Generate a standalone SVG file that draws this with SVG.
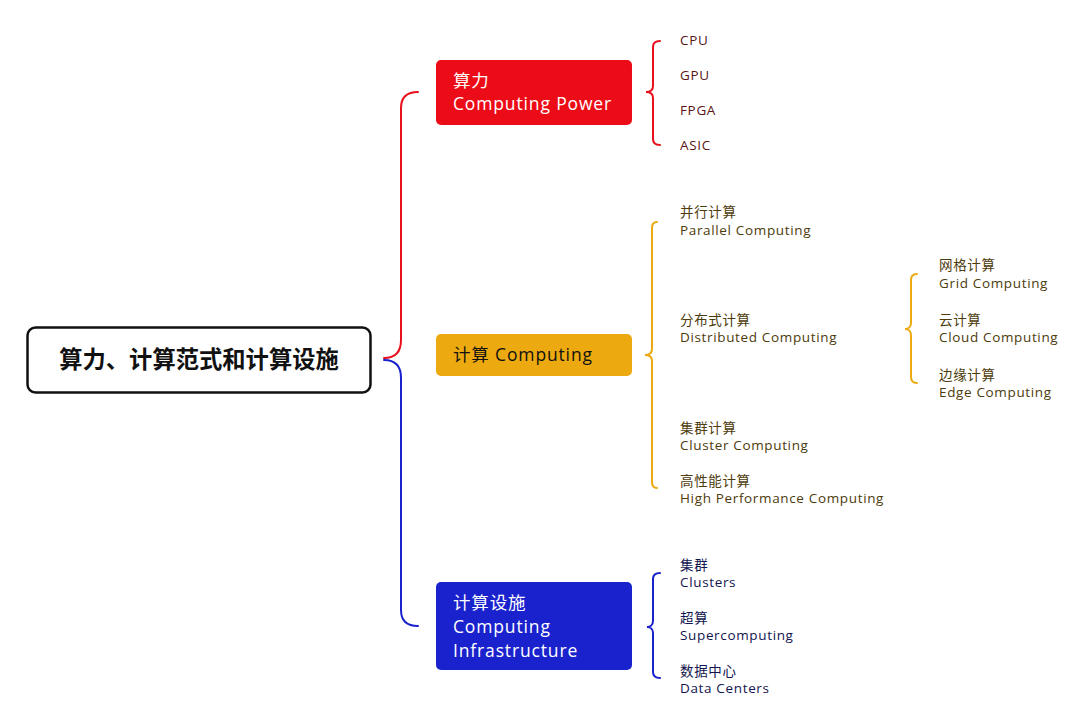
<svg xmlns="http://www.w3.org/2000/svg" width="1082" height="727" viewBox="0 0 1082 727">
<style>
text{font-family:"Open Sans","Noto Sans CJK SC",sans-serif;}
.lbl{font-size:13.5px;letter-spacing:0.65px;}
.r{fill:#5a1414;}
.y{fill:#4d3b0c;}
.b{fill:#12154f;}
.main{font-size:17.5px;letter-spacing:0.85px;}
.br{fill:none;stroke-width:2;stroke-linecap:round;}
</style>
<rect width="1082" height="727" fill="#ffffff"/>
<g id="connectors">
<path class="br" stroke="#e8101c" d="M384,358 C396,358 401,352 401,340 L401,108 C401,98 406,92 418,92"/>
<path class="br" stroke="#1a22cd" d="M384,360 C396,360 401,366 401,378 L401,610 C401,620 406,626 418,626"/>
<path class="br" stroke="#e8101c" d="M660,41 C655,41 653,43 653,47 L653,86 C653,90 650,92 646,92 C650,92 653,94 653,98 L653,139 C653,143 655,145 660,145"/>
<path class="br" stroke="#edaa10" d="M657,222 C654,222 652,224 652,228 L652,349 C652,353 649,355 645,355 C649,355 652,357 652,361 L652,482 C652,486 654,488 657,488"/>
<path class="br" stroke="#edaa10" d="M917,274 C913,274 911,276 911,280 L911,323 C911,327 908,329 905,329 C908,329 911,331 911,335 L911,377 C911,381 913,383 917,383"/>
<path class="br" stroke="#1a22cd" d="M660,573 C655,573 653,575 653,579 L653,621 C653,625 650,627 647,627 C650,627 653,629 653,633 L653,672 C653,676 655,678 660,678"/>
</g>
<g id="root">
<rect x="27.5" y="327.5" width="343" height="65" rx="8" fill="#ffffff" stroke="#111111" stroke-width="2.5"/>
<text x="199" y="368" text-anchor="middle" font-size="23.3" font-weight="bold" fill="#111111">算力、计算范式和计算设施</text>
</g>
<g id="power">
<rect x="436" y="60" width="196" height="65" rx="5" fill="#ec0c17"/>
<text class="main" x="453" y="87" fill="#ffffff">算力</text>
<text class="main" x="453" y="110" fill="#ffffff">Computing Power</text>
</g>
<g id="computing">
<rect x="436" y="334" width="196" height="42" rx="5" fill="#edaa10"/>
<text class="main" x="453" y="361" fill="#111111">计算 Computing</text>
</g>
<g id="infra">
<rect x="436" y="582" width="196" height="88" rx="5" fill="#1a22cd"/>
<text class="main" x="453" y="609" fill="#ffffff">计算设施</text>
<text class="main" x="453" y="633" fill="#ffffff">Computing</text>
<text class="main" x="453" y="657" fill="#ffffff">Infrastructure</text>
</g>
<g id="cpu"><text class="lbl r" x="680" y="45">CPU</text></g>
<g id="gpu"><text class="lbl r" x="680" y="80">GPU</text></g>
<g id="fpga"><text class="lbl r" x="680" y="115">FPGA</text></g>
<g id="asic"><text class="lbl r" x="680" y="150">ASIC</text></g>
<g id="parallel"><text class="lbl y" x="680" y="217">并行计算</text><text class="lbl y" x="680" y="235">Parallel Computing</text></g>
<g id="distributed"><text class="lbl y" x="680" y="325">分布式计算</text><text class="lbl y" x="680" y="342">Distributed Computing</text></g>
<g id="cluster"><text class="lbl y" x="680" y="433">集群计算</text><text class="lbl y" x="680" y="450">Cluster Computing</text></g>
<g id="hpc"><text class="lbl y" x="680" y="486">高性能计算</text><text class="lbl y" x="680" y="503">High Performance Computing</text></g>
<g id="grid"><text class="lbl y" x="939" y="270">网格计算</text><text class="lbl y" x="939" y="288">Grid Computing</text></g>
<g id="cloud"><text class="lbl y" x="939" y="325">云计算</text><text class="lbl y" x="939" y="342">Cloud Computing</text></g>
<g id="edge"><text class="lbl y" x="939" y="380">边缘计算</text><text class="lbl y" x="939" y="397">Edge Computing</text></g>
<g id="clusters"><text class="lbl b" x="680" y="570">集群</text><text class="lbl b" x="680" y="587">Clusters</text></g>
<g id="super"><text class="lbl b" x="680" y="623">超算</text><text class="lbl b" x="680" y="640">Supercomputing</text></g>
<g id="dc"><text class="lbl b" x="680" y="676">数据中心</text><text class="lbl b" x="680" y="693">Data Centers</text></g>
</svg>
